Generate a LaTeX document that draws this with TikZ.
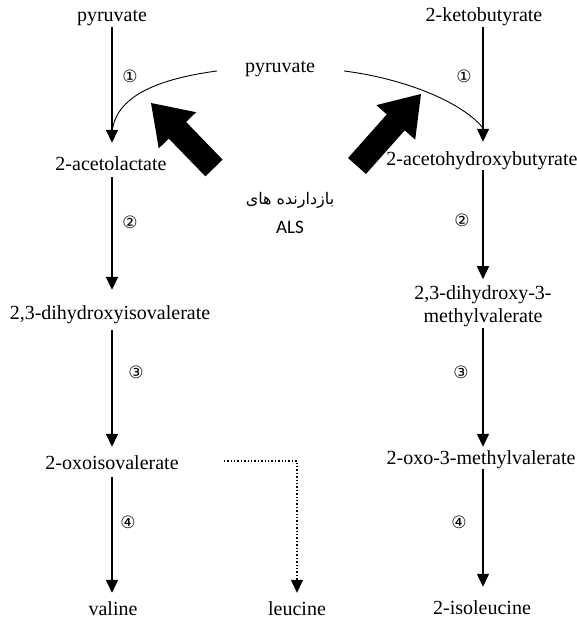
\documentclass[tikz,border=0pt]{standalone}
\usepackage{fontspec}
\setmainfont{Liberation Serif}
\newfontfamily\cnum{DejaVu Sans}
\newfontfamily\arabicfont[Script=Arabic]{DejaVu Sans}
\newfontfamily\calibfont{Carlito}
\TeXXeTstate=1
\usetikzlibrary{arrows.meta,calc}
\begin{document}
\begin{tikzpicture}[x=1pt,y=-1pt,
  lbl/.style={font=\fontsize{20}{22}\selectfont, inner sep=1pt, text height=14pt, text depth=4pt},
  lbltwo/.style={font=\fontsize{20}{23}\selectfont, inner sep=1pt, align=center},
  num/.style={font=\cnum\fontsize{17}{17}\selectfont, inner sep=0pt},
  arrL/.style={line width=1.8pt,-{Triangle[width=12pt,length=13pt]}},
  arrR/.style={line width=1.4pt,-{Triangle[width=12pt,length=13pt]}},
  curveline/.style={line width=0.9pt},
  dotline/.style={line width=1.4pt,dotted,-{Triangle[width=12pt,length=13pt]}},
  bigarrow/.style={fill=black}
]
\useasboundingbox (0,0) rectangle (577,623);

% left column
\node[lbl] (pyrL) at (112,17) {pyruvate};
\node[lbl] (acl) at (111,165) {2-acetolactate};
\node[lbl] (dhiv) at (110,314) {2,3-dihydroxyisovalerate};
\node[lbl] (oxo) at (112,464) {2-oxoisovalerate};
\node[lbl] (val) at (113,610) {valine};
\node[lbl] (leu) at (297,610) {leucine};

% right column
\node[lbl] (ktb) at (484,17) {2-ketobutyrate};
\node[lbl] (ahb) at (482,160) {2-acetohydroxybutyrate};
\node[lbltwo] (dhmv) at (483,306.5) {2,3-dihydroxy-3-\\methylvalerate};
\node[lbl] (omv) at (481,459) {2-oxo-3-methylvalerate};
\node[lbl] (ile) at (482,609) {2-isoleucine};

% middle
\node[lbl] (pyrM) at (280,68) {pyruvate};
\node[font=\arabicfont\fontsize{16}{18}\selectfont, inner sep=1pt] (inh) at (290,200) {\beginR بازدارنده های\endR};
\node[font=\calibfont\fontsize{19}{20}\selectfont, inner sep=1pt] (als) at (290,227) {ALS};

% step numbers
\node[num] (nL1) at (130,76) {①};
\node[num] (nL2) at (130,222) {②};
\node[num] (nL3) at (136,372) {③};
\node[num] (nL4) at (128,522) {④};
\node[num] (nR1) at (464,76) {①};
\node[num] (nR2) at (462,220) {②};
\node[num] (nR3) at (461,372) {③};
\node[num] (nR4) at (459,522) {④};

% left arrows
\draw[arrL, shorten >=12pt] (pyrL.south) -- (pyrL.south |- acl.north);
\draw[arrL, shorten <=2pt, shorten >=14pt] (acl.south -| pyrL.south) -- (pyrL.south |- dhiv.north);
\draw[arrL, shorten <=6pt, shorten >=7pt] (dhiv.south -| pyrL.south) -- (pyrL.south |- oxo.north);
\draw[arrL, shorten <=3pt, shorten >=7pt] (oxo.south -| pyrL.south) -- (pyrL.south |- val.north);

% right arrows
\draw[arrR, shorten >=8pt] (ktb.south -| ahb.south) ++(1,0) coordinate (rx) -- (rx |- ahb.north);
\draw[arrR, shorten >=5.5pt] (rx |- ahb.south) -- (rx |- dhmv.north);
\draw[arrR, shorten >=2pt] (rx |- dhmv.south) -- (rx |- omv.north);
\draw[arrR, shorten >=12pt] (rx |- omv.south) -- (rx |- ile.north);

% dotted branch to leucine
\draw[dotline, shorten >=7pt] ([xshift=44pt,yshift=3pt]oxo.east) -| (leu.north);

% pyruvate joining curves
\coordinate (jL) at (112,135);
\coordinate (jR) at (483,128);
\draw[curveline] ([xshift=-27pt,yshift=-3pt]pyrM.west) .. controls (150,80) and (113,100) .. (jL);
\draw[curveline] ([xshift=28pt,yshift=-3pt]pyrM.east) .. controls (400,78) and (460,100) .. (jR);

% big inhibitor arrows
\coordinate (T1) at (214,168);
\coordinate (P1) at (151,103);
\coordinate (N1) at ($(P1)!38pt!(T1)$);
\fill[bigarrow] ($(T1)!12pt!90:(P1)$) -- ($(N1)!12pt!-90:(T1)$) -- ($(N1)!26pt!-90:(T1)$) -- (P1)
  -- ($(N1)!26pt!90:(T1)$) -- ($(N1)!12pt!90:(T1)$) -- ($(T1)!12pt!-90:(P1)$) -- cycle;
\coordinate (T2) at (357,166);
\coordinate (P2) at (421,94);
\coordinate (N2) at ($(P2)!38pt!(T2)$);
\fill[bigarrow] ($(T2)!12pt!90:(P2)$) -- ($(N2)!12pt!-90:(T2)$) -- ($(N2)!26pt!-90:(T2)$) -- (P2)
  -- ($(N2)!26pt!90:(T2)$) -- ($(N2)!12pt!90:(T2)$) -- ($(T2)!12pt!-90:(P2)$) -- cycle;
\end{tikzpicture}
\end{document}
